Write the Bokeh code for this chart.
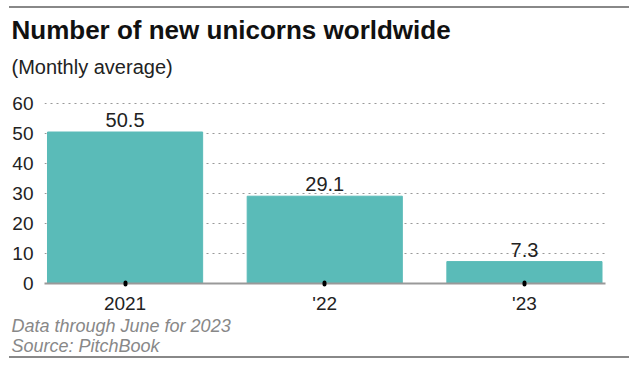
from bokeh.plotting import figure
from bokeh.models import Range1d, FixedTicker, Title, ColumnDataSource
from bokeh.embed import file_html
from bokeh.resources import INLINE
from bokeh.core.properties import value

categories = ["2021", "'22", "'23"]
values = [50.5, 29.1, 7.3]
value_labels = ["50.5", "29.1", "7.3"]
y_ticks = [0, 10, 20, 30, 40, 50, 60]

title_text = "Number of new unicorns worldwide"
subtitle_text = "(Monthly average)"
note_text = "Data through June for 2023"
source_text = "Source: PitchBook"

FONT = "Liberation Sans"
BAR = "#5abbb8"

xs = list(range(len(categories)))
src = ColumnDataSource(dict(x=xs, top=values, label=value_labels))

p = figure(width=620, height=352, output_backend="svg", toolbar_location=None,
           x_range=Range1d(-0.4035, 2.406), y_range=Range1d(0, 62),
           min_border_left=32, min_border_right=24, min_border_top=89, min_border_bottom=77,
           styles={"margin-left": "9px", "margin-top": "6px",
                   "border-top": "2px solid #888", "border-bottom": "2px solid #888"})

p.vbar(x="x", top="top", width=0.777, bottom=0, color=BAR, source=src)
p.text(x="x", y="top", text="label", source=src, text_align="center", text_baseline="alphabetic",
       y_offset=-12, text_font=value(FONT), text_font_size=value("20px"), text_color="#222")

p.outline_line_color = None
p.xgrid.grid_line_color = None
p.ygrid.grid_line_color = "#999999"
p.ygrid.grid_line_dash = "2 4"
p.ygrid.grid_line_width = 1
p.ygrid.ticker = FixedTicker(ticks=y_ticks)

p.yaxis.ticker = FixedTicker(ticks=y_ticks)
p.yaxis.axis_line_color = None
p.yaxis.major_tick_line_color = None
p.yaxis.minor_tick_line_color = None
p.yaxis.major_label_standoff = 5
p.yaxis.major_label_text_font = FONT
p.yaxis.major_label_text_font_size = "19px"
p.yaxis.major_label_text_color = "#222"

p.xaxis.ticker = FixedTicker(ticks=xs)
p.xaxis.major_label_overrides = {i: c for i, c in zip(xs, categories)}
p.xaxis.axis_line_color = "#999999"
p.xaxis.axis_line_width = 2
p.xaxis.major_tick_line_color = "black"
p.xaxis.major_tick_line_width = 4
p.xaxis.major_tick_line_cap = "round"
p.xaxis.major_tick_in = 1
p.xaxis.major_tick_out = 1
p.xaxis.minor_tick_line_color = None
p.xaxis.major_label_standoff = 8
p.xaxis.major_label_text_font = FONT
p.xaxis.major_label_text_font_size = "19px"
p.xaxis.major_label_text_color = "#222"

p.add_layout(Title(text=subtitle_text, text_font=FONT, text_font_size="20px",
                   text_font_style="normal", text_color="#222", align="left",
                   offset=-33, standoff=39.6), "above")
p.add_layout(Title(text=title_text, text_font=FONT, text_font_size="26px",
                   text_font_style="bold", text_color="#111", align="left",
                   offset=-33, standoff=-22.2), "above")
p.add_layout(Title(text=note_text, text_font=FONT, text_font_size="18px",
                   text_font_style="italic", text_color="#888", align="left",
                   offset=-33, standoff=-3.6), "below")
p.add_layout(Title(text=source_text, text_font=FONT, text_font_size="18px",
                   text_font_style="italic", text_color="#888", align="left",
                   offset=-33, standoff=-2), "below")

open("out.html", "w").write(file_html(p, INLINE))
